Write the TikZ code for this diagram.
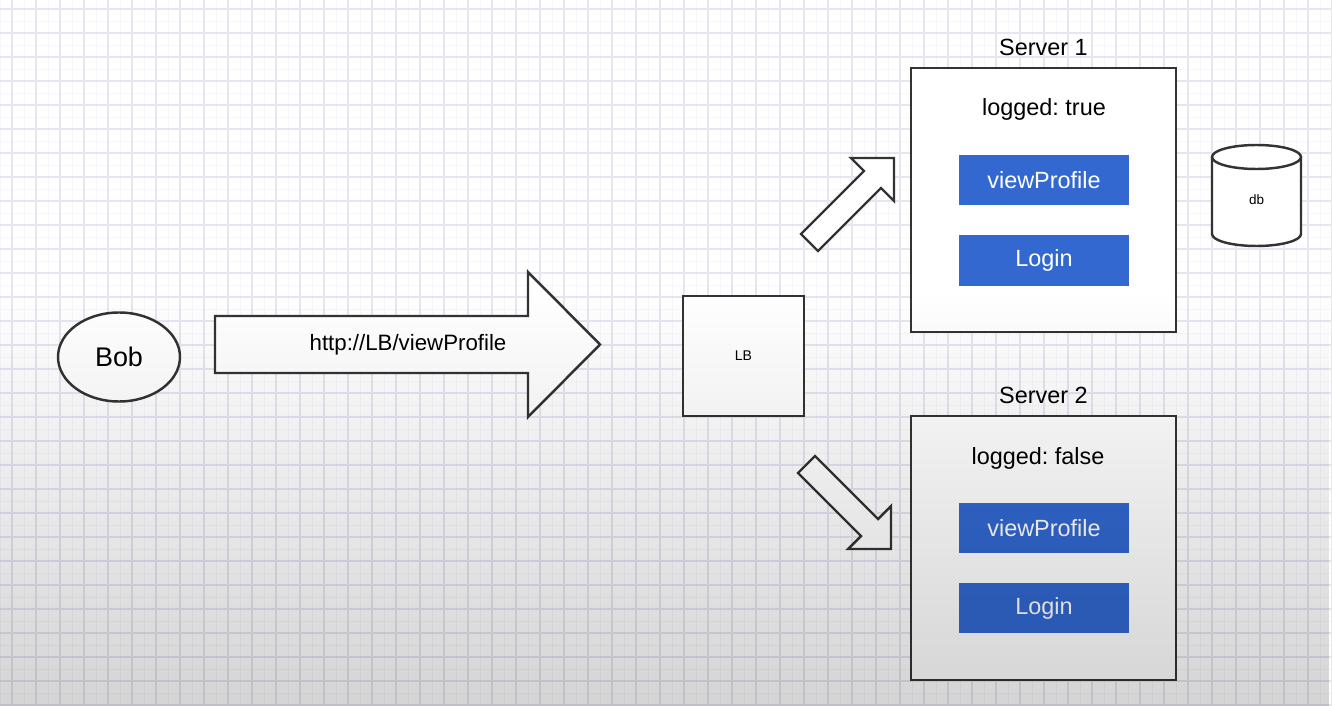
\documentclass[tikz,border=0pt]{standalone}
\usepackage{fontspec}
\setmainfont{Liberation Sans}
\frenchspacing
\usetikzlibrary{positioning,fadings,shapes.geometric}
\definecolor{btnblue}{RGB}{50,104,208}
\definecolor{edgegray}{RGB}{51,51,51}
\definecolor{gridmajor}{RGB}{230,230,243}
\definecolor{gridminor}{RGB}{246,246,251}
\tikzset{
	box/.style={draw=edgegray, line width=2.1pt, fill=white},
	btn/.style={fill=btnblue, text=white, minimum width=5.1cm, minimum height=1.5cm, font=\fontsize{20}{24}\selectfont},
	server/.style={box, minimum width=7.95cm, minimum height=7.92cm},
	label/.style={inner sep=0pt, font=\fontsize{20}{24}\selectfont}
}
\begin{document}
\begin{tikzpicture}[x=0.03cm, y=-0.03cm]
		\useasboundingbox (0,0) rectangle (1332,706);
		\fill[white] (0,0) rectangle (1332,706);
		\foreach \gx in {0,24,...,1332} \draw[gridminor, line width=0.7pt] (\gx,0) -- (\gx,706);
		\foreach \gy in {21,45,...,706} \draw[gridminor, line width=0.7pt] (0,\gy) -- (1332,\gy);
		\foreach \gx in {12,36,...,1332} \draw[gridmajor, line width=0.9pt] (\gx,0) -- (\gx,706);
		\foreach \gy in {9,33,...,706} \draw[gridmajor, line width=0.9pt] (0,\gy) -- (1332,\gy);
		\node[box, ellipse, minimum width=3.66cm, minimum height=2.67cm, font=\fontsize{23}{27}\selectfont] (bob) at (119,357) {Bob};
		\draw[box, line join=miter] (215,316) -- (528,316) -- (528,272) -- (600,344.5) -- (528,417) -- (528,373) -- (215,373) -- cycle;
		\node[label, font=\fontsize{19}{23}\selectfont] (req) at (408,344.5) {http://LB/viewProfile};
		\node[box, minimum width=3.63cm, minimum height=3.6cm, font=\fontsize{12}{14}\selectfont] (lb) at (743.5,356) {LB};
		\draw[box, line join=miter] (801,234) -- (864,171) -- (851,158) -- (894,158) -- (894,201) -- (881,188) -- (818,251) -- cycle;
		\draw[box, line join=miter] (798,473) -- (815,456) -- (878,519) -- (891,506) -- (891,549) -- (848,549) -- (861,536) -- cycle;
		\node[server] (s1) at (1043.5,200) {};
		\node[label, above=9.5pt of s1] (t1) {Server 1};
		\node[label] (log1) at (1044,109) {logged: true};
		\node[btn] (view1) at (1044,180) {viewProfile};
		\node[btn] (login1) at (1044,260.5) {Login};
		\node[server] (s2) at (1043.5,548) {};
		\node[label, above=9.5pt of s2] (t2) {Server 2};
		\node[label] (log2) at (1038,458) {logged: false};
		\node[btn] (view2) at (1044,528) {viewProfile};
		\node[btn] (login2) at (1044,608) {Login};
		\filldraw[box] (1212,157) -- (1212,234) arc[start angle=180, end angle=0, x radius=44.5, y radius=12] -- (1301,157);
		\draw[box] (1256.5,157) ellipse[x radius=44.5, y radius=12];
		\node[font=\fontsize{11.5}{14}\selectfont] (db) at (1256.5,200) {db};
		\fill[black, opacity=0.17, path fading=north] (0,290) rectangle (1332,706);
	\end{tikzpicture}
\end{document}
